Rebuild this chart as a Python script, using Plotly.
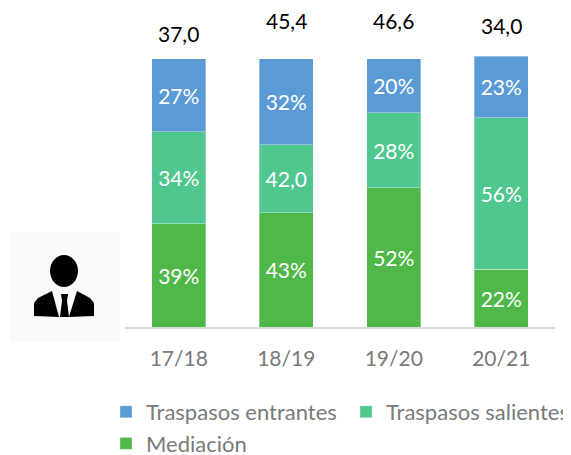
import plotly.graph_objects as go

categories = ["17/18", "18/19", "19/20", "20/21"]
mediacion = [38.4, 42.5, 51.9, 21.6]
salientes = [34.3, 25.4, 28.0, 56.3]
entrantes = [27.2, 32.1, 20.1, 23.1]
mediacion_labels = ["39%", "43%", "52%", "22%"]
salientes_labels = ["34%", "42,0", "28%", "56%"]
entrantes_labels = ["27%", "32%", "20%", "23%"]
totals = ["37,0", "45,4", "46,6", "34,0"]

PAGE = 8  # browser's default body margin
W, H = 620, 490
L, R, T, B = 117, 23, 48, 171
AXIS_PX = 430
FONT = "Lato"
total_label_px = [33, 21, 21, 26]


def px(x):
    return (x - PAGE - L) / (W - L - R)


def py(y):
    return (H - B - (y - PAGE)) / (H - B - T)


def path(points):
    return "M " + " L ".join(f"{px(a):.4f},{py(b):.4f}" for a, b in points) + " Z"


fig = go.Figure()
series = [
    ("Mediación", mediacion, mediacion_labels, "#50B848"),
    ("Traspasos salientes", salientes, salientes_labels, "#4FC78E"),
    ("Traspasos entrantes", entrantes, entrantes_labels, "#5B9BD5"),
]
for name, values, labels, color in series:
    fig.add_bar(
        name=name, x=categories, y=values, text=labels,
        textposition="inside", insidetextanchor="middle", textangle=0,
        textfont=dict(family=FONT, size=21, color="white"),
        marker=dict(color=color, line=dict(color="rgba(255,255,255,0.35)", width=1)),
        hoverinfo="skip",
    )

for cat, total, y in zip(categories, totals, total_label_px):
    fig.add_annotation(x=cat, y=py(y), text=total, showarrow=False, xref="x", yref="paper",
                       yanchor="middle",
                       font=dict(family=FONT, size=21, color="black"))

shapes = [
    dict(type="rect", xref="paper", yref="paper", x0=px(10), x1=px(120), y0=py(342), y1=py(232),
         fillcolor="#FAFAFA", line_width=0, layer="below"),
    dict(type="circle", xref="paper", yref="paper", x0=px(50), x1=px(78), y0=py(287), y1=py(255),
         fillcolor="black", line_width=0),
    dict(type="path", xref="paper", yref="paper", fillcolor="black", line_width=0,
         path=path([(34, 316), (34, 303), (38, 298), (52, 291), (59, 317)])),
    dict(type="path", xref="paper", yref="paper", fillcolor="black", line_width=0,
         path=path([(94, 316), (94, 303), (90, 298), (77, 291), (69, 317)])),
    dict(type="path", xref="paper", yref="paper", fillcolor="black", line_width=0,
         path=path([(61, 294), (68, 294), (67, 301), (69, 317), (60, 317), (62, 301)])),
]

fig.update_layout(
    width=W, height=H, autosize=False,
    margin=dict(l=L, r=R, t=T, b=B),
    paper_bgcolor="white", plot_bgcolor="white",
    barmode="stack", bargap=0.5,
    shapes=shapes,
    font=dict(family=FONT, size=21, color="#7A7A7A"),
    legend=dict(orientation="h", traceorder="reversed",
                x=(98 - L) / (W - L - R), xanchor="left",
                y=py(391), yanchor="top",
                font=dict(family=FONT, size=22, color="#7A7A7A"),
                itemwidth=30, entrywidth=195, entrywidthmode="pixels",
                bgcolor="rgba(0,0,0,0)"),
    xaxis=dict(domain=[0, AXIS_PX / (W - L - R)],
               showgrid=False, ticks="", showline=True, linecolor="#D9D9D9", linewidth=2,
               ticklabelstandoff=12,
               tickfont=dict(family=FONT, size=21, color="#7A7A7A"), fixedrange=True),
    yaxis=dict(range=[0, 101], visible=False, fixedrange=True),
)

fig.write_html("out.html", config=dict(displayModeBar=False))
